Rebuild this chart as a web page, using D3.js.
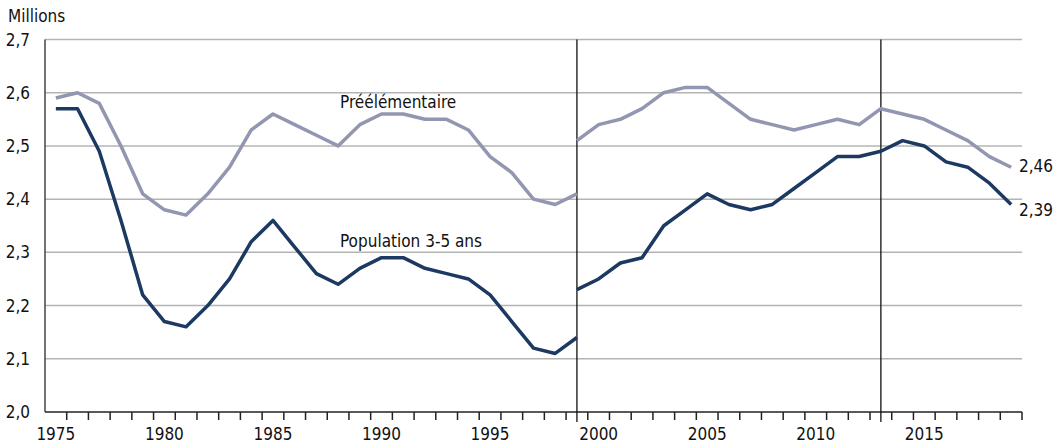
<!DOCTYPE html>
<html lang="fr">
<head>
<meta charset="UTF-8">
<title>Préélémentaire et population 3-5 ans</title>
<script src="https://d3js.org/d3.v7.min.js"></script>
<style>
    body { margin: 0; background: #fff; }
    svg text {
        font-family: "Liberation Sans Narrow", "DejaVu Sans Condensed", "Roboto Condensed", sans-serif;
        fill: #111;
    }
</style>
</head>
<body>
<div id="chart"></div>
<script>
    // ---------- data (millions) ----------
    const years = d3.range(1975, 2020);

    // old series, 1975-1999
    const yearsOld = d3.range(1975, 2000);
    const preelOld = [2.59, 2.60, 2.58, 2.50, 2.41, 2.38, 2.37, 2.41, 2.46, 2.53,
                      2.56, 2.54, 2.52, 2.50, 2.54, 2.56, 2.56, 2.55, 2.55, 2.53,
                      2.48, 2.45, 2.40, 2.39, 2.41];
    const popOld   = [2.57, 2.57, 2.49, 2.36, 2.22, 2.17, 2.16, 2.20, 2.25, 2.32,
                      2.36, 2.31, 2.26, 2.24, 2.27, 2.29, 2.29, 2.27, 2.26, 2.25,
                      2.22, 2.17, 2.12, 2.11, 2.14];

    // new series, 1999-2019
    const yearsNew = d3.range(1999, 2020);
    const preelNew = [2.51, 2.54, 2.55, 2.57, 2.60, 2.61, 2.61, 2.58, 2.55, 2.54,
                      2.53, 2.54, 2.55, 2.54, 2.57, 2.56, 2.55, 2.53, 2.51, 2.48,
                      2.46];
    const popNew   = [2.23, 2.25, 2.28, 2.29, 2.35, 2.38, 2.41, 2.39, 2.38, 2.39,
                      2.42, 2.45, 2.48, 2.48, 2.49, 2.51, 2.50, 2.47, 2.46, 2.43,
                      2.39];

    const breakYears = [1999, 2013];
    const yTicks = [2.0, 2.1, 2.2, 2.3, 2.4, 2.5, 2.6, 2.7];
    const xLabelYears = [1975, 1980, 1985, 1990, 1995, 2000, 2005, 2010, 2015];

    const colPreel = "#9396b0";
    const colPop = "#1c3961";

    // ---------- layout ----------
    const W = 1059, H = 444;
    const mLeft = 45, mRight = 1022, mTop = 39.5, mBottom = 412;

    const svg = d3.select("#chart").append("svg")
        .attr("width", W)
        .attr("height", H);

    const x = d3.scaleBand().domain(years).range([mLeft, mRight]).padding(0);
    const cx = d => x(d) + x.bandwidth() / 2;
    const y = d3.scaleLinear().domain([2.0, 2.7]).range([mBottom, mTop]);
    const fmt = v => d3.format(".1f")(v).replace(".", ",");

    // gridlines
    svg.append("g")
        .selectAll("line")
        .data(yTicks.slice(1))
        .join("line")
        .attr("x1", mLeft).attr("x2", mRight)
        .attr("y1", d => y(d)).attr("y2", d => y(d))
        .attr("stroke", "#b4b4b4")
        .attr("stroke-width", 1.5);

    // y labels
    svg.append("g")
        .selectAll("text")
        .data(yTicks)
        .join("text")
        .attr("x", 30)
        .attr("y", d => y(d) + 6)
        .attr("text-anchor", "end")
        .attr("font-size", 17)
        .text(fmt);

    svg.append("text")
        .attr("x", 8).attr("y", 22)
        .attr("font-size", 17)
        .text("Millions");

    // axes lines
    svg.append("line")
        .attr("x1", mLeft).attr("x2", mLeft)
        .attr("y1", mTop).attr("y2", mBottom)
        .attr("stroke", "#444").attr("stroke-width", 1.5);
    svg.append("line")
        .attr("x1", mLeft).attr("x2", mRight)
        .attr("y1", mBottom).attr("y2", mBottom)
        .attr("stroke", "#222").attr("stroke-width", 1.5);

    // ticks on band edges
    svg.append("g")
        .selectAll("line")
        .data(years)
        .join("line")
        .attr("x1", d => x(d) + x.bandwidth()).attr("x2", d => x(d) + x.bandwidth())
        .attr("y1", mBottom).attr("y2", mBottom + 8)
        .attr("stroke", "#222").attr("stroke-width", 1.5);

    svg.append("g")
        .selectAll("text")
        .data(xLabelYears)
        .join("text")
        .attr("x", d => cx(d))
        .attr("y", 440)
        .attr("text-anchor", "middle")
        .attr("font-size", 17)
        .text(d => d);

    // series breaks
    svg.append("g")
        .selectAll("line")
        .data(breakYears)
        .join("line")
        .attr("x1", d => cx(d)).attr("x2", d => cx(d))
        .attr("y1", mTop).attr("y2", mBottom + 10)
        .attr("stroke", "#111").attr("stroke-width", 1.3);

    // lines
    const line = d3.line().x(d => cx(d[0])).y(d => y(d[1]));
    const segments = [
        { yrs: yearsOld, vals: preelOld, color: colPreel },
        { yrs: yearsNew, vals: preelNew, color: colPreel },
        { yrs: yearsOld, vals: popOld, color: colPop },
        { yrs: yearsNew, vals: popNew, color: colPop }
    ];
    svg.append("g")
        .selectAll("path")
        .data(segments)
        .join("path")
        .attr("d", s => line(d3.zip(s.yrs, s.vals)))
        .attr("fill", "none")
        .attr("stroke", s => s.color)
        .attr("stroke-width", 3.5)
        .attr("stroke-linejoin", "round");

    // series labels
    svg.append("text").attr("x", 340).attr("y", 108).attr("font-size", 17).text("Préélémentaire");
    svg.append("text").attr("x", 340).attr("y", 247).attr("font-size", 17).text("Population 3-5 ans");

    // end values
    const last = [preelNew[preelNew.length - 1], popNew[popNew.length - 1]];
    svg.append("g")
        .selectAll("text")
        .data(last)
        .join("text")
        .attr("x", 1019)
        .attr("y", (d, i) => y(d) + (i === 0 ? 5 : 12))
        .attr("font-size", 17)
        .text(d => d3.format(".2f")(d).replace(".", ","));
</script>
</body>
</html>
